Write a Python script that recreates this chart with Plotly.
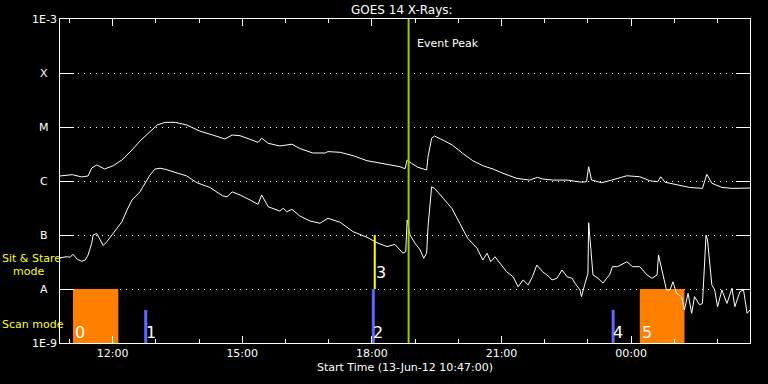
import plotly.graph_objects as go

# ---------------- data ----------------
long_times = ["10:47","11:04","11:17","11:26","11:31","11:38","11:49","12:01","12:13","12:27",
              "12:38","12:52","13:02","13:13","13:27","13:43","14:01","14:19","14:36","14:46",
              "14:57","15:11","15:22","15:27","15:36","15:52","16:09","16:20","16:34","16:38",
              "16:55","16:59","17:16","17:34","17:53","18:21","18:39","18:46","18:49","18:55",
              "19:04","19:16","19:18","19:23","19:27","19:39","19:52","20:06","20:20","20:34",
              "20:48","21:02","21:21","21:39","21:50","21:57","22:11","22:31","22:51","22:58",
              "23:01","23:05","23:19","23:33","23:54","00:12","00:26","00:37","00:41","00:47",
              "01:07","01:21","01:39","01:45","01:52","02:06","02:21","02:45"]
long_flux = [1.24e-6,1.31e-6,1.19e-6,1.24e-6,1.74e-6,1.98e-6,1.67e-6,1.92e-6,2.45e-6,3.75e-6,
             5.5e-6,8.2e-6,1.09e-5,1.22e-5,1.22e-5,1.09e-5,8.4e-6,7.1e-6,6.0e-6,7.1e-6,
             6.9e-6,5.9e-6,5.2e-6,6.2e-6,5.0e-6,4.45e-6,4.8e-6,4.0e-6,3.4e-6,3.3e-6,
             3.3e-6,3.5e-6,3.4e-6,2.94e-6,2.38e-6,2.04e-6,1.84e-6,1.69e-6,2.45e-6,2.13e-6,
             1.79e-6,1.60e-6,2.82e-6,6.2e-6,6.8e-6,5.7e-6,4.6e-6,3.26e-6,2.38e-6,1.92e-6,
             1.67e-6,1.39e-6,1.12e-6,1.04e-6,1.17e-6,1.09e-6,1.04e-6,1.04e-6,9.5e-7,9.7e-7,
             1.84e-6,1.04e-6,9.3e-7,1.04e-6,1.25e-6,1.20e-6,1.01e-6,9.7e-7,1.20e-6,9.5e-7,
             8.2e-7,7.6e-7,7.3e-7,1.33e-6,9.1e-7,7.6e-7,7.3e-7,7.4e-7]

short_times = ["10:47","10:57","11:01","11:05","11:11","11:17","11:22","11:26","11:31","11:33",
               "11:38","11:43","11:47","11:52","11:59","12:06","12:13","12:20","12:27","12:38",
               "12:45","12:52","12:59","13:06","13:13","13:27","13:43","13:57","14:15","14:33",
               "14:39","14:46","14:57","15:11","15:22","15:27","15:36","15:52","15:57","16:02",
               "16:09","16:20","16:34","16:48","16:59","17:16","17:34","17:53","18:07","18:21",
               "18:32","18:39","18:43","18:47","18:49","18:53","19:00","19:07","19:12","19:16",
               "19:18","19:23","19:27","19:39","19:51","20:02","20:13","20:26","20:34","20:40",
               "20:45","20:51","20:58","21:07","21:16","21:23","21:30","21:37","21:43","21:49",
               "21:57","22:06","22:10","22:17","22:24","22:31","22:38","22:42","22:49","22:51",
               "22:56","23:00","23:01","23:04","23:07","23:14","23:21","23:26","23:30","23:34",
               "23:41","23:54","00:02","00:12","00:22","00:29","00:36","00:38","00:44","00:49",
               "00:54","00:58","01:03","01:10","01:14","01:19","01:24","01:28","01:35","01:39",
               "01:44","01:46","01:52","01:56","02:00","02:06","02:13","02:20","02:24","02:31",
               "02:36","02:41","02:45"]
short_flux = [3.8e-8,3.96e-8,3.86e-8,4.4e-8,3.55e-8,3.26e-8,3.44e-8,4.27e-8,7.0e-8,1.0e-7,
              1.07e-7,8.3e-8,6.4e-8,7.5e-8,1.0e-7,1.28e-7,1.76e-7,2.9e-7,4.45e-7,6.3e-7,
              9.1e-7,1.29e-6,1.67e-6,1.72e-6,1.65e-6,1.43e-6,1.24e-6,9.3e-7,7.6e-7,5.3e-7,
              5.1e-7,6.3e-7,5.5e-7,4.45e-7,3.7e-7,5.5e-7,3.34e-7,2.78e-7,3.12e-7,2.7e-7,
              2.99e-7,2.25e-7,1.82e-7,1.65e-7,2.04e-7,1.72e-7,1.15e-7,9.1e-8,7.2e-8,6.1e-8,
              6.7e-8,5.3e-8,4.6e-8,4.9e-8,1.9e-7,1.0e-7,7.0e-8,5.3e-8,3.7e-8,4.6e-8,
              1.43e-7,7.8e-7,7.3e-7,4.8e-7,3.12e-7,1.65e-7,8.7e-8,5.7e-8,3.44e-8,4.6e-8,
              3.2e-8,3.96e-8,3.0e-8,2.09e-8,1.69e-8,1.1e-8,1.47e-8,1.19e-8,1.69e-8,2.78e-8,
              2.09e-8,1.69e-8,1.47e-8,1.58e-8,2.25e-8,1.69e-8,1.58e-8,1.28e-8,9.6e-9,7.2e-9,
              1.28e-8,1.95e-8,1.69e-7,6.1e-8,1.82e-8,1.58e-8,1.28e-8,1.58e-8,1.82e-8,2.59e-8,
              2.59e-8,3.2e-8,2.59e-8,2.59e-8,1.82e-8,1.58e-8,1.82e-8,4.27e-8,1.95e-8,9.6e-9,
              9.6e-9,1.36e-8,8.3e-9,7.2e-9,4.1e-9,8.3e-9,3.55e-9,7.2e-9,5.1e-9,5.4e-9,
              1.0e-7,8.1e-8,1.19e-8,9.6e-9,4.7e-9,9.6e-9,5.4e-9,1.03e-8,4.7e-9,8.9e-9,
              9.6e-9,3.55e-9,4.1e-9]

class_levels = [1e-9, 1e-8, 1e-7, 1e-6, 1e-5, 1e-4, 1e-3]
class_labels = ["1E-9", "A", "B", "C", "M", "X", "1E-3"]

scan_start = ["11:05", "00:12"]        # orange scan-mode blocks
scan_end = ["12:08", "01:14"]
scan_ids = ["0", "5"]

obs_times = ["12:46", "18:02", "23:35"]   # blue markers
obs_top = [4.1e-9, 1e-8, 4.1e-9]
obs_ids = ["1", "2", "4"]

stare_time = "18:04"                     # yellow sit & stare marker
stare_low, stare_high = 1e-8, 1e-7
stare_id = "3"

event_peak = "18:51"
t_start, t_end = "10:47", "02:45"


def stamp(hm):
    day = "2012-06-14" if int(hm[:2]) < 10 else "2012-06-13"
    return f"{day} {hm}"


# --------------- layout helpers ---------------
L, R, T, B = 60, 750, 19, 343


def px(xp):
    return (xp - L) / (R - L)


def py(yp):
    return 1 - (yp - T) / (B - T)


WHITE = "white"
BLUE = "#6464ff"
ORANGE = "#ff8000"
YELLOW = "#ffff00"
GREEN = "#9acd00"
FONT = "DejaVu Sans"

fig = go.Figure()
fig.add_trace(go.Scatter(x=[stamp(t) for t in long_times], y=long_flux, mode="lines",
                         line=dict(color=WHITE, width=1), hoverinfo="skip"))
fig.add_trace(go.Scatter(x=[stamp(t) for t in short_times], y=short_flux, mode="lines",
                         line=dict(color=WHITE, width=1), hoverinfo="skip"))

shapes = []
annotations = []
for s, e, lab in zip(scan_start, scan_end, scan_ids):
    shapes.append(dict(type="rect", xref="x", yref="y", x0=stamp(s), x1=stamp(e),
                       y0=class_levels[0], y1=class_levels[1], fillcolor=ORANGE,
                       line=dict(width=0), layer="between"))
    annotations.append(dict(xref="x", yref="y", x=stamp(s), y=-8.8, text=lab,
                            showarrow=False, xanchor="left", yanchor="middle",
                            font=dict(size=16, color=WHITE, family=FONT)))
for t, top, lab in zip(obs_times, obs_top, obs_ids):
    shapes.append(dict(type="line", xref="x", yref="y", x0=stamp(t), x1=stamp(t),
                       y0=class_levels[0], y1=top, line=dict(color=BLUE, width=3),
                       layer="above"))
    annotations.append(dict(xref="x", yref="y", x=stamp(t), y=-8.8, text=lab,
                            showarrow=False, xanchor="left", yanchor="middle", xshift=-2,
                            font=dict(size=16, color=WHITE, family=FONT)))
shapes.append(dict(type="line", xref="x", yref="y", x0=stamp(stare_time), x1=stamp(stare_time),
                   y0=stare_low, y1=stare_high, line=dict(color=YELLOW, width=2), layer="above"))
annotations.append(dict(xref="x", yref="y", x=stamp(stare_time), y=-7.69, text=stare_id,
                        showarrow=False, xanchor="left", yanchor="middle", xshift=-1,
                        font=dict(size=16, color=WHITE, family=FONT)))
shapes.append(dict(type="line", xref="x", yref="paper", x0=stamp(event_peak), x1=stamp(event_peak),
                   y0=0, y1=1, line=dict(color=GREEN, width=2), layer="above"))
annotations.append(dict(xref="x", yref="paper", x=stamp(event_peak), y=py(43), text="Event Peak",
                        showarrow=False, xanchor="left", yanchor="middle", xshift=6,
                        font=dict(size=11, color=WHITE, family=FONT)))

for i, lab in enumerate(class_labels):
    annotations.append(dict(xref="paper", yref="y", x=px(44), y=-9 + i,
                            text=lab, showarrow=False, xanchor="center", yanchor="middle",
                            font=dict(size=11, color=WHITE, family=FONT)))

annotations += [
    dict(xref="paper", yref="paper", x=px(402), y=py(10), text="GOES 14 X-Rays:", showarrow=False,
         xanchor="center", yanchor="middle", font=dict(size=12, color=WHITE, family=FONT)),
    dict(xref="paper", yref="paper", x=px(405), y=py(368), text="Start Time (13-Jun-12 10:47:00)",
         showarrow=False, xanchor="center", yanchor="middle",
         font=dict(size=11, color=WHITE, family=FONT)),
    dict(xref="paper", yref="paper", x=px(0), y=py(258), text="Sit & Stare", showarrow=False,
         xanchor="left", yanchor="middle", font=dict(size=11, color=YELLOW, family=FONT)),
    dict(xref="paper", yref="paper", x=px(11), y=py(271), text="mode", showarrow=False,
         xanchor="left", yanchor="middle", font=dict(size=11, color=YELLOW, family=FONT)),
    dict(xref="paper", yref="paper", x=px(0), y=py(324), text="Scan mode", showarrow=False,
         xanchor="left", yanchor="middle", font=dict(size=11, color=YELLOW, family=FONT)),
]

fig.update_layout(
    width=768, height=384,
    paper_bgcolor="black", plot_bgcolor="black",
    margin=dict(l=L, r=768 - R, t=T, b=384 - B),
    showlegend=False,
    font=dict(family=FONT, color=WHITE, size=11),
    shapes=shapes, annotations=annotations,
    xaxis=dict(type="date", range=[stamp(t_start), stamp(t_end)],
               showline=True, linecolor=WHITE, linewidth=1, mirror="ticks",
               ticks="inside", ticklen=7, tickcolor=WHITE, tickwidth=1,
               tick0=stamp("12:00"), dtick=3 * 3600000, tickformat="%H:%M",
               tickfont=dict(size=11, color=WHITE, family=FONT),
               minor=dict(dtick=3600000, tick0=stamp("11:00"), ticks="inside", ticklen=4,
                          tickcolor=WHITE, tickwidth=1, showgrid=False),
               showgrid=False, zeroline=False),
    yaxis=dict(type="log", range=[-9, -3], tickvals=class_levels, showticklabels=False,
               showline=True, linecolor=WHITE, linewidth=1, mirror="ticks",
               ticks="inside", ticklen=14, tickcolor=WHITE, tickwidth=1,
               showgrid=True, gridcolor=WHITE, gridwidth=1, griddash="1px,5px",
               zeroline=False),
)

fig.write_html("out.html", config={"displayModeBar": False},
               post_script="document.body.style.margin='0';document.body.style.background='black';")
